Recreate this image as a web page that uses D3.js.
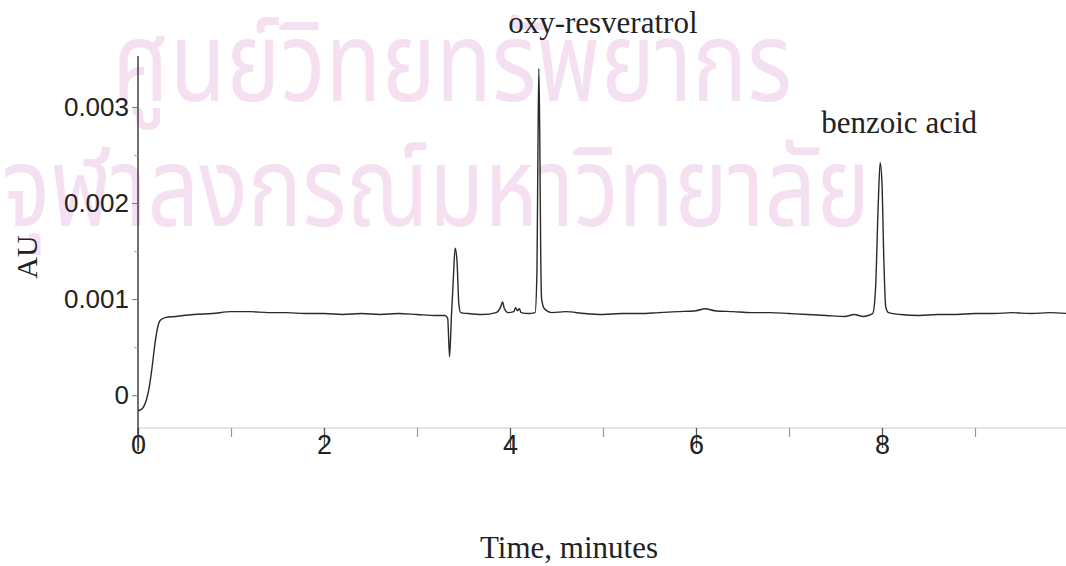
<!DOCTYPE html>
<html>
<head>
<meta charset="utf-8">
<script src="https://cdn.jsdelivr.net/npm/d3@7"></script>
<style>
  html, body { margin: 0; padding: 0; background: #fff; }
  svg { display: block; }
</style>
</head>
<body>
<svg id="chart" width="1066" height="566"></svg>
<script>
// Retention time (minutes) and detector response (AU)
const times = [
  0.00, 0.03, 0.06, 0.09, 0.12, 0.15, 0.18, 0.21, 0.24, 0.30,
  0.40, 0.60, 0.80, 1.00, 1.20, 1.40, 1.60, 1.80, 2.00, 2.20,
  2.40, 2.60, 2.80, 3.00, 3.20, 3.30, 3.33, 3.35, 3.37, 3.39,
  3.41, 3.43, 3.45, 3.47, 3.55, 3.70, 3.85, 3.90, 3.92, 3.94,
  3.98, 4.04, 4.06, 4.08, 4.10, 4.12, 4.20, 4.27, 4.29, 4.30,
  4.31, 4.32, 4.33, 4.34, 4.37, 4.45, 4.60, 4.80, 5.00, 5.20,
  5.40, 5.60, 5.80, 6.00, 6.10, 6.20, 6.40, 6.60, 6.80, 7.00,
  7.20, 7.40, 7.60, 7.70, 7.80, 7.85, 7.90, 7.93, 7.96, 7.98,
  8.00, 8.02, 8.04, 8.07, 8.20, 8.40, 8.60, 8.80, 9.00, 9.20,
  9.40, 9.60, 9.80, 10.00
];
const absorbance = [
  -0.00016, -0.00015, -0.00012, -0.00005, 0.00008, 0.00028, 0.00052, 0.00070, 0.00078, 0.00081,
  0.00082, 0.00084, 0.00085, 0.00087, 0.00087, 0.00086, 0.00086, 0.00085, 0.00085, 0.00084,
  0.00085, 0.00084, 0.00085, 0.00084, 0.00083, 0.00083, 0.00080, 0.00040, 0.00082, 0.00120,
  0.00153, 0.00140, 0.00095, 0.00086, 0.00085, 0.00084, 0.00086, 0.00092, 0.00097, 0.00090,
  0.00086, 0.00087, 0.00091, 0.00088, 0.00090, 0.00086, 0.00085, 0.00086, 0.00130, 0.00250,
  0.00340, 0.00270, 0.00150, 0.00100, 0.00090, 0.00086, 0.00087, 0.00085, 0.00084, 0.00085,
  0.00085, 0.00086, 0.00087, 0.00088, 0.00090, 0.00088, 0.00087, 0.00086, 0.00086, 0.00085,
  0.00084, 0.00083, 0.00082, 0.00084, 0.00082, 0.00083, 0.00085, 0.00110, 0.00200, 0.00242,
  0.00220, 0.00140, 0.00092, 0.00086, 0.00084, 0.00083, 0.00084, 0.00084, 0.00085, 0.00085,
  0.00086, 0.00085, 0.00086, 0.00085
];

// Axis ticks
const xMajorTicks = [0, 2, 4, 6, 8];
const xMinorTicks = [1, 3, 5, 7, 9];
const yTicks = [0, 0.001, 0.002, 0.003];
const yMinorTicks = [0.0005, 0.0015, 0.0025];

// Peak annotations
const peakNames = ["oxy-resveratrol", "benzoic acid"];
const peakTimes = [4.31, 7.98];

// Watermark lines
const watermark = ["ศูนย์วิทยทรัพยากร", "จุฬาลงกรณ์มหาวิทยาลัย"];

const svg = d3.select("#chart");

const x = d3.scaleLinear().domain([0, 10]).range([138, 1068]);
const y = d3.scaleLinear().domain([-0.00058, 0.00353]).range([451, 56]);
const axisY = 428;

// Watermark behind everything
const wmLayout = [
  { x: 112, y: 101, len: 680 },
  { x: 2, y: 226, len: 868 }
];
svg.append("g")
  .selectAll("text")
  .data(watermark)
  .join("text")
  .attr("x", (d, i) => wmLayout[i].x)
  .attr("y", (d, i) => wmLayout[i].y)
  .attr("textLength", (d, i) => wmLayout[i].len)
  .attr("lengthAdjust", "spacingAndGlyphs")
  .attr("font-family", "'Noto Sans Thai', 'Noto Sans', 'DejaVu Sans', sans-serif")
  .attr("font-size", 110)
  .attr("fill", "#f4e0f1")
  .text(d => d);

// X axis baseline (faint)
svg.append("line")
  .attr("x1", x(0)).attr("x2", x(10))
  .attr("y1", axisY).attr("y2", axisY)
  .attr("stroke", "#cccccc").attr("stroke-width", 1);

// X axis ticks and labels
const xAxis = d3.axisBottom(x)
  .tickValues(xMajorTicks)
  .tickSize(20)
  .tickFormat(d3.format("d"));
const gx = svg.append("g").attr("transform", `translate(0,${axisY})`).call(xAxis);
gx.select(".domain").remove();
gx.selectAll(".tick line").attr("stroke", "#555").attr("stroke-width", 1.3);
gx.selectAll(".tick text")
  .attr("font-family", "Arial, 'Liberation Sans', sans-serif")
  .attr("font-size", 27)
  .attr("fill", "#222")
  .attr("dy", "0.1em");

svg.append("g").attr("transform", `translate(0,${axisY})`)
  .call(d3.axisBottom(x).tickValues(xMinorTicks).tickSize(9).tickFormat(""))
  .call(g => g.select(".domain").remove())
  .selectAll(".tick line").attr("stroke", "#999").attr("stroke-width", 1.2);

// Y axis
const yAxis = d3.axisLeft(y)
  .tickValues(yTicks)
  .tickSize(6)
  .tickPadding(3)
  .tickFormat(d => d === 0 ? "0" : d3.format(".3f")(d));
const gy = svg.append("g").attr("transform", `translate(${x(0)},0)`).call(yAxis);
gy.select(".domain")
  .attr("d", `M0,${y.range()[1]}V${y.range()[0]}`)
  .attr("stroke", "#333").attr("stroke-width", 1.4);
gy.selectAll(".tick line").attr("stroke", "#777");
gy.selectAll(".tick text")
  .attr("font-family", "Arial, 'Liberation Sans', sans-serif")
  .attr("font-size", 26)
  .attr("fill", "#222");

svg.append("g").attr("transform", `translate(${x(0)},0)`)
  .call(d3.axisLeft(y).tickValues(yMinorTicks).tickSize(4).tickFormat(""))
  .call(g => g.select(".domain").remove())
  .selectAll(".tick line").attr("stroke", "#aaa");

// Chromatogram trace
const points = times.map((t, i) => [t, absorbance[i]]);
svg.append("path")
  .datum(points)
  .attr("fill", "none")
  .attr("stroke", "#2a2a2a")
  .attr("stroke-width", 1.4)
  .attr("stroke-linejoin", "round")
  .attr("d", d3.line().x(d => x(d[0])).y(d => y(d[1])).curve(d3.curveMonotoneX));

// Peak labels
const labelOffset = [{ dx: 64, y: 33 }, { dx: 19, y: 133 }];
svg.append("g")
  .selectAll("text")
  .data(peakNames)
  .join("text")
  .attr("x", (d, i) => x(peakTimes[i]) + labelOffset[i].dx)
  .attr("y", (d, i) => labelOffset[i].y)
  .attr("text-anchor", "middle")
  .attr("font-family", "'Times New Roman', 'Liberation Serif', serif")
  .attr("font-size", 31)
  .attr("fill", "#222")
  .text(d => d);

// Axis titles
svg.append("text")
  .attr("transform", `translate(37,257) rotate(-90)`)
  .attr("text-anchor", "middle")
  .attr("font-family", "'Times New Roman', 'Liberation Serif', serif")
  .attr("font-size", 30)
  .attr("fill", "#222")
  .text("AU");

svg.append("text")
  .attr("x", 569)
  .attr("y", 558)
  .attr("text-anchor", "middle")
  .attr("font-family", "'Times New Roman', 'Liberation Serif', serif")
  .attr("font-size", 31)
  .attr("fill", "#222")
  .text("Time, minutes");
</script>
</body>
</html>
